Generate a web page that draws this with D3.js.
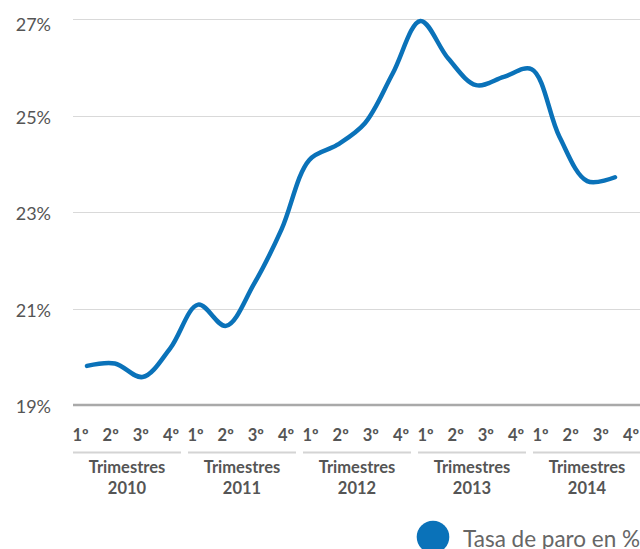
<!DOCTYPE html>
<html><head><meta charset="utf-8">
<script src="https://cdn.jsdelivr.net/npm/d3@7"></script>
<style>html,body{margin:0;padding:0;background:#fff;overflow:hidden}</style>
</head><body><div id="chart"></div>
<script>
const quarters = ["1º","2º","3º","4º"];
const years = ["2010","2011","2012","2013","2014"];
const groupTitle = "Trimestres";
const rate = [19.81,19.86,19.58,20.18,21.08,20.64,21.5,22.64,24.08,24.39,24.84,25.87,26.96,26.18,25.63,25.8,25.96,24.56,23.64,23.72];
const yTicks = [19,21,23,25,27];
const seriesName = "Tasa de paro en %";

const W = 640, H = 549;
const font = "Lato, 'Open Sans', sans-serif";
const blue = "#0a72b9";
const periods = years.flatMap(y => quarters.map(q => y + "-" + q));
const data = periods.map((p, i) => ({p, v: rate[i]}));

const svg = d3.select("#chart").append("svg").attr("width", W).attr("height", H);

const x = d3.scalePoint().domain(periods).range([87, 615]);
const y = d3.scaleLinear().domain([19, 27]).range([405, 19]);

// gridlines
svg.append("g").selectAll("line").data(yTicks.filter(t => t !== 19)).join("line")
  .attr("x1", 73).attr("x2", W)
  .attr("y1", d => Math.round(y(d)) + 0.5).attr("y2", d => Math.round(y(d)) + 0.5)
  .attr("stroke", "#d9d9d9").attr("stroke-width", 1.2);

// base axis line
svg.append("line").attr("x1", 73).attr("x2", W)
  .attr("y1", y(19)).attr("y2", y(19))
  .attr("stroke", "#a9a9a9").attr("stroke-width", 2.6);

// y labels
svg.append("g").selectAll("text").data(yTicks).join("text")
  .attr("x", 51).attr("y", d => Math.max(y(d) + 1, 24))
  .attr("text-anchor", "end").attr("dominant-baseline", "central")
  .attr("font-family", font).attr("font-size", 18).attr("fill", "#555")
  .text(d => d + "%");

// line
const line = d3.line().x(d => x(d.p)).y(d => y(d.v)).curve(d3.curveCatmullRom.alpha(0.5));
svg.append("path").datum(data).attr("d", line)
  .attr("fill", "none").attr("stroke", blue).attr("stroke-width", 4.5)
  .attr("stroke-linecap", "round").attr("stroke-linejoin", "round");

// x labels (groups)
const gx = d3.scaleBand().domain(years).range([73, 73 + 115 * years.length]);
const qx = d3.scalePoint().domain(quarters).range([7.5, 98]);
const groups = svg.append("g").selectAll("g").data(years).join("g")
  .attr("transform", d => `translate(${gx(d)},0)`);
groups.selectAll("text.q").data(quarters).join("text").attr("class", "q")
  .attr("x", d => qx(d)).attr("y", 435)
  .attr("text-anchor", "middle").attr("dominant-baseline", "central")
  .attr("font-family", font).attr("font-weight", "bold").attr("font-size", 16.5).attr("fill", "#555")
  .text(d => d);
groups.append("line").attr("x1", 0).attr("x2", 108).attr("y1", 452.5).attr("y2", 452.5)
  .attr("stroke", "#d4d4d4").attr("stroke-width", 2);
groups.append("text").attr("x", 54).attr("y", 467)
  .attr("text-anchor", "middle").attr("dominant-baseline", "central")
  .attr("font-family", font).attr("font-weight", "bold").attr("font-size", 16.5).attr("fill", "#555")
  .text(groupTitle);
groups.append("text").attr("x", 54).attr("y", 488)
  .attr("text-anchor", "middle").attr("dominant-baseline", "central")
  .attr("font-family", font).attr("font-weight", "bold").attr("font-size", 16.5).attr("fill", "#555")
  .text(d => d);

// legend
const lg = svg.append("g").attr("transform", "translate(433,537)");
lg.append("circle").attr("r", 16.3).attr("fill", blue);
lg.append("text").attr("x", 30).attr("y", 1)
  .attr("dominant-baseline", "central")
  .attr("font-family", font).attr("font-size", 22.5).attr("fill", "#666")
  .text(seriesName);
</script></body></html>
